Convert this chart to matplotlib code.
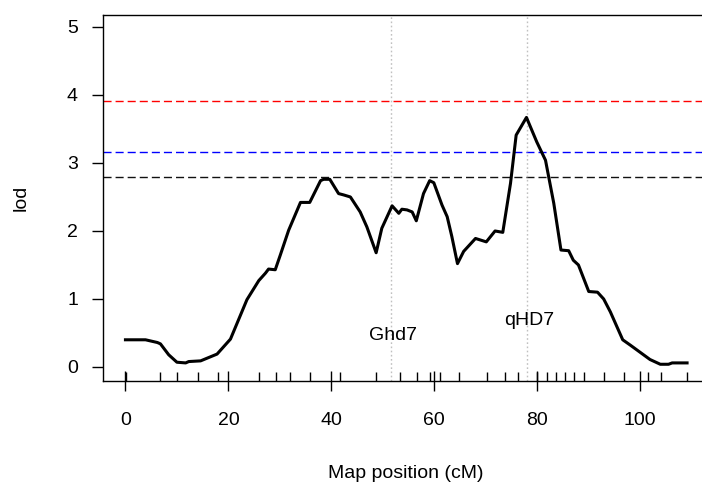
#!/usr/bin/env python3
# LOD profile along the chromosome with permutation thresholds
import matplotlib
matplotlib.use("Agg")
from matplotlib import pyplot as plt

plt.rcParams['font.family'] = ['Liberation Sans', 'DejaVu Sans']

# LOD curve (cM, lod)
pos = [0.0, 1.9, 3.9, 6.2, 6.8, 8.4, 10.0, 11.7, 12.3, 14.6, 16.2, 17.8,
       20.4, 23.6, 25.9, 27.2, 27.8, 29.1, 30.1, 31.7, 34.0, 35.8, 37.9,
       38.5, 39.7, 41.4, 42.4, 43.7, 45.6, 46.9, 48.7, 49.8, 51.8, 53.1,
       53.7, 54.7, 55.7, 56.5, 57.9, 59.1, 59.9, 61.5, 62.5, 63.4, 64.5,
       65.7, 68.0, 70.1, 71.8, 73.3, 74.8, 75.9, 77.9, 79.9, 81.6, 83.2,
       84.6, 86.1, 87.0, 88.0, 90.0, 91.7, 92.9, 94.2, 96.6, 98.1, 101.9,
       103.9, 105.5, 106.2, 109.1]
lod = [0.40, 0.40, 0.40, 0.36, 0.34, 0.18, 0.07, 0.06, 0.08, 0.09, 0.14, 0.19,
       0.41, 0.99, 1.27, 1.38, 1.44, 1.43, 1.65, 2.01, 2.42, 2.42, 2.74,
       2.76, 2.76, 2.55, 2.53, 2.50, 2.28, 2.06, 1.68, 2.04, 2.37, 2.26,
       2.32, 2.31, 2.28, 2.15, 2.55, 2.74, 2.71, 2.38, 2.21, 1.92, 1.52,
       1.70, 1.89, 1.84, 2.00, 1.98, 2.70, 3.41, 3.67, 3.31, 3.04, 2.41,
       1.72, 1.71, 1.57, 1.50, 1.11, 1.10, 1.00, 0.81, 0.40, 0.32, 0.11,
       0.04, 0.04, 0.06, 0.06]

# marker positions (rug)
markers = [0.2, 6.7, 10.1, 14.0, 17.9, 26.0, 29.3, 31.9, 35.8, 41.6, 48.7,
           53.4, 56.6, 59.1, 61.2, 64.7, 70.2, 73.8, 76.2, 79.9, 81.9, 83.6,
           85.4, 87.2, 89.1, 92.9, 96.8, 101.6, 104.1, 109.1]

# thresholds
thr_vals = [3.91, 3.16, 2.79]
thr_cols = ['#ff0000', '#0000ff', '#111111']

# genes
genes = ['Ghd7', 'qHD7']
gene_pos = [51.5, 78.1]
gene_lab_y = [0.47, 0.69]
gene_lab_x = [52.0, 78.5]

fig = plt.figure(figsize=(7.02, 4.84), dpi=100)
ax = fig.add_axes([103 / 702, 1 - 381 / 484, 1 - 103 / 702, (381 - 15) / 484])

for v, c in zip(thr_vals, thr_cols):
    ax.axhline(v, color=c, lw=1.0, linestyle=(0, (5.8, 2.9)))

for g in gene_pos:
    ax.axvline(g, color='#c0c0c0', lw=1.0, linestyle=(0, (1.2, 1.8)))

ax.plot(pos, lod, color='black', lw=2.2, solid_joinstyle='round')

for name, x, y in zip(genes, gene_lab_x, gene_lab_y):
    ax.text(x, y, name, fontsize=14, ha='center', va='center')

ax.set_xlim(-4.36, 112.0)
ax.set_ylim(-0.206, 5.176)

ax.set_xticks([0, 20, 40, 60, 80, 100])
ax.set_xticks(markers, minor=True)
ax.set_yticks([0, 1, 2, 3, 4, 5])
ax.tick_params(axis='x', which='major', direction='inout', length=15,
               width=1.0, labelsize=14, pad=15)
ax.tick_params(axis='x', which='minor', direction='in', length=6.5, width=1.0)
ax.tick_params(axis='y', which='major', direction='out', length=8,
               width=1.0, labelsize=14, pad=10)

ax.spines['right'].set_visible(False)
for s in ['left', 'bottom', 'top']:
    ax.spines[s].set_linewidth(1.0)

ax.set_xlabel('Map position (cM)', fontsize=14)
ax.xaxis.set_label_coords((406 - 103) / 599, (381 - 465) / 366)
ax.set_ylabel('lod', fontsize=14)
ax.yaxis.set_label_coords((30 - 103) / 599, 0.5)

plt.savefig('out.png', dpi=100)
